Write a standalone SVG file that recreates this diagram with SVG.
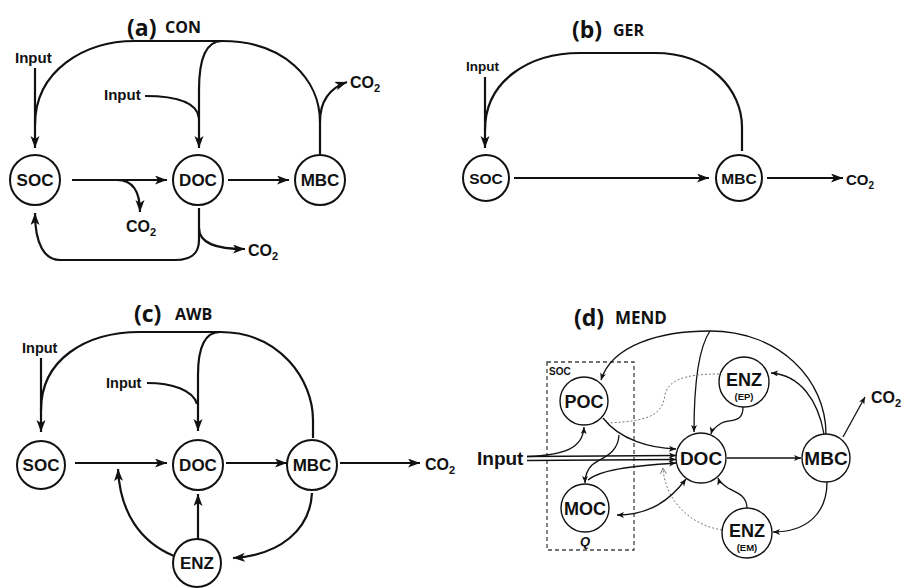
<svg xmlns="http://www.w3.org/2000/svg" width="911" height="588" viewBox="0 0 911 588">
<defs>
<marker id="ah" markerUnits="userSpaceOnUse" markerWidth="14" markerHeight="10" refX="12" refY="4.5" orient="auto">
<path d="M0,0 L12,4.5 L0,9 L3,4.5 z" fill="#111"/>
</marker>
<marker id="as" markerUnits="userSpaceOnUse" markerWidth="8" markerHeight="7" refX="7" refY="3" orient="auto-start-reverse">
<path d="M0,0 L7,3 L0,6 L1.8,3 z" fill="#111"/>
</marker>
<marker id="ag" markerUnits="userSpaceOnUse" markerWidth="8" markerHeight="7" refX="6" refY="3" orient="auto">
<path d="M0,0 L6,3 L0,6" fill="none" stroke="#777" stroke-width="0.9"/>
</marker>
</defs>
<style>
.bg{fill:#fff}
.n{fill:#fff;stroke:#111;stroke-width:2}
.nd{fill:#fff;stroke:#111;stroke-width:1.4}
.c{fill:none;stroke:#111;stroke-width:2.2}
.cd{fill:none;stroke:#111;stroke-width:1.3}
.dot{fill:none;stroke:#777;stroke-width:1;stroke-dasharray:2 2}
.lbl{font-family:"Liberation Sans",Arial,sans-serif;font-weight:bold;fill:#111;text-anchor:middle}
.t{font-family:"Liberation Sans",Arial,sans-serif;font-weight:bold;fill:#111}
.ti{font-family:"Open Sans","Liberation Sans",sans-serif;font-weight:bold;fill:#111}
</style>
<rect class="bg" x="0" y="0" width="911" height="588"/>

<!-- Panel (a) -->
<text class="ti" x="127" y="36" font-size="23">(a)</text>
<text class="ti" x="165" y="33" font-size="16">CON</text>
<g id="a-connectors">
<path class="c" d="M35,68 L35,148" marker-end="url(#ah)"/>
<path class="c" d="M35,125 C35,70 85,41 135,41 L222,41 C285,41 320,80 320,122 L320,154"/>
<path class="c" d="M222,41 C205,41 199,60 199,90 L199,148" marker-end="url(#ah)"/>
<path class="c" d="M145,96 C175,96 197,102 199,118"/>
<path class="c" d="M320,122 C320,100 330,88 347,82" marker-end="url(#ah)"/>
<path class="c" d="M72,180 L167,180" marker-end="url(#ah)"/>
<path class="c" d="M117,180 C132,180 140,190 140,212" marker-end="url(#ah)"/>
<path class="c" d="M228,180 L289,180" marker-end="url(#ah)"/>
<path class="c" d="M199,208 L199,240 C199,255 190,260 175,260 L60,260 C45,260 35,245 35,213" marker-end="url(#ah)"/>
<path class="c" d="M199,228 C199,243 215,249 245,249" marker-end="url(#ah)"/>
</g>
<text class="t" x="15" y="63" font-size="15">Input</text>
<text class="t" x="104" y="100" font-size="15">Input</text>
<text class="t" x="350" y="88" font-size="16">CO<tspan font-size="11" dy="4">2</tspan></text>
<text class="t" x="126" y="232" font-size="16">CO<tspan font-size="11" dy="4">2</tspan></text>
<text class="t" x="248" y="256" font-size="16">CO<tspan font-size="11" dy="4">2</tspan></text>
<g id="a-soc"><circle class="n" cx="35" cy="180" r="25"/><text class="lbl" x="35" y="186" font-size="17">SOC</text></g>
<g id="a-doc"><circle class="n" cx="198" cy="180" r="25"/><text class="lbl" x="198" y="186" font-size="17">DOC</text></g>
<g id="a-mbc"><circle class="n" cx="320" cy="180" r="25"/><text class="lbl" x="320" y="186" font-size="17">MBC</text></g>

<!-- Panel (b) -->
<text class="ti" x="572" y="38" font-size="23">(b)</text>
<text class="ti" x="613" y="36" font-size="16">GER</text>
<g id="b-connectors">
<path class="c" d="M485,77 L485,148" marker-end="url(#ah)"/>
<path class="c" d="M485,130 C485,80 530,53 580,53 L655,53 C710,53 742,90 742,127 L742,151"/>
<path class="c" d="M514,178 L709,178" marker-end="url(#ah)"/>
<path class="c" d="M767,178 L843,178" marker-end="url(#ah)"/>
</g>
<text class="t" x="466" y="71" font-size="13.5">Input</text>
<text class="t" x="846" y="185" font-size="15">CO<tspan font-size="10" dy="4">2</tspan></text>
<g id="b-soc"><circle class="n" cx="486" cy="178" r="23"/><text class="lbl" x="486" y="184" font-size="15.5">SOC</text></g>
<g id="b-mbc"><circle class="n" cx="739" cy="178" r="23"/><text class="lbl" x="739" y="184" font-size="15.5">MBC</text></g>

<!-- Panel (c) -->
<text class="ti" x="134" y="322" font-size="23">(c)</text>
<text class="ti" x="175" y="320" font-size="16">AWB</text>
<g id="c-connectors">
<path class="c" d="M41,358 L41,432" marker-end="url(#ah)"/>
<path class="c" d="M41,410 C41,360 85,332 140,332 L220,332 C280,332 313,380 313,420 L313,438"/>
<path class="c" d="M220,332 C203,332 198,350 198,375 L198,431" marker-end="url(#ah)"/>
<path class="c" d="M147,383 C172,383 193,390 197,404"/>
<path class="c" d="M75,463 L167,463" marker-end="url(#ah)"/>
<path class="c" d="M226,463 L287,463" marker-end="url(#ah)"/>
<path class="c" d="M340,463 L420,463" marker-end="url(#ah)"/>
<path class="c" d="M198,539 L198,494" marker-end="url(#ah)"/>
<path class="c" d="M174,556 C140,542 120,512 118,469" marker-end="url(#ah)"/>
<path class="c" d="M312,493 C310,530 280,555 233,558" marker-end="url(#ah)"/>
</g>
<text class="t" x="22" y="353" font-size="14.5">Input</text>
<text class="t" x="106" y="388" font-size="14.5">Input</text>
<text class="t" x="425" y="470" font-size="16">CO<tspan font-size="11" dy="4">2</tspan></text>
<g id="c-soc"><circle class="n" cx="41" cy="465" r="24"/><text class="lbl" x="41" y="471" font-size="17">SOC</text></g>
<g id="c-doc"><circle class="n" cx="198" cy="465" r="25"/><text class="lbl" x="198" y="471" font-size="17">DOC</text></g>
<g id="c-mbc"><circle class="n" cx="312" cy="465" r="25"/><text class="lbl" x="312" y="471" font-size="17">MBC</text></g>
<g id="c-enz"><circle class="n" cx="197" cy="563" r="24"/><text class="lbl" x="197" y="569" font-size="17">ENZ</text></g>

<!-- Panel (d) -->
<text class="ti" x="574" y="326" font-size="23">(d)</text>
<text class="ti" x="615" y="324" font-size="17">MEND</text>
<g id="d-soc-box">
<rect x="547" y="362" width="87" height="188" fill="none" stroke="#444" stroke-width="1.3" stroke-dasharray="4 3"/>
<text class="t" x="549" y="375" font-size="10">SOC</text>
</g>
<g id="d-connectors">
<path class="cd" d="M710,331 C660,331 612,345 601,380" marker-end="url(#as)"/>
<path class="cd" d="M710,331 C780,331 826,380 826,434"/>
<path class="cd" d="M710,331 C697,350 694,390 694,432" marker-end="url(#as)"/>
<path class="cd" d="M824,434 C818,400 800,375 771,373" marker-end="url(#as)"/>
<path class="cd" d="M743,407 C743,425 728,418 720,424 C714,428 712,430 711,434" marker-end="url(#as)"/>
<path class="cd" d="M827,482 C827,515 805,532 773,532" marker-end="url(#as)"/>
<path class="cd" d="M747,508 C747,495 735,492 728,488 C722,484 719,481 718,478" marker-end="url(#as)"/>
<path class="cd" d="M727,458 L801,458" marker-end="url(#as)"/>
<path class="cd" d="M843,437 L865,397" marker-end="url(#as)"/>
<path class="dot" d="M719,374 C685,374 668,380 665,395 C662,415 650,421 607,423"/>
<path class="dot" d="M722,530 C690,525 665,500 663,468" marker-end="url(#ag)"/>
<path class="cd" d="M603,418 C620,440 650,448 676,449" marker-end="url(#as)"/>
<path class="cd" d="M619,435 C618,455 600,458 592,465 C587,470 585,475 585,483" marker-end="url(#as)"/>
<path class="cd" d="M588,480 C600,470 630,466 676,463" marker-end="url(#as)"/>
<path class="cd" d="M617,515 C650,515 670,500 686,479" marker-start="url(#as)" marker-end="url(#as)"/>
<path class="cd" d="M527,456.5 C565,455 583,448 584,427" marker-end="url(#as)"/>
<path class="cd" d="M527,456.5 L676,455.5" marker-end="url(#as)"/>
<path class="cd" d="M527,460.5 L676,459.5" marker-end="url(#as)"/>
</g>
<text class="t" x="477" y="465" font-size="19">Input</text>
<text class="t" x="871" y="403" font-size="16">CO<tspan font-size="11" dy="4">2</tspan></text>
<g id="d-poc"><circle class="nd" cx="584" cy="401" r="24"/><text class="lbl" x="584" y="408" font-size="18">POC</text></g>
<g id="d-moc"><circle class="nd" cx="585" cy="508" r="24"/><text class="lbl" x="585" y="515" font-size="18">MOC</text>
<text class="lbl" x="585" y="546" font-size="13" font-style="italic">Q</text></g>
<g id="d-doc"><circle class="nd" cx="701" cy="458" r="25"/><text class="lbl" x="701" y="465" font-size="19">DOC</text></g>
<g id="d-mbc"><circle class="nd" cx="826" cy="458" r="24"/><text class="lbl" x="826" y="465" font-size="19">MBC</text></g>
<g id="d-enz-ep"><circle class="nd" cx="744" cy="382" r="25"/><text class="lbl" x="744" y="386" font-size="18">ENZ</text><text class="lbl" x="744" y="400" font-size="9.5">(EP)</text></g>
<g id="d-enz-em"><circle class="nd" cx="747" cy="533" r="25"/><text class="lbl" x="747" y="537" font-size="18">ENZ</text><text class="lbl" x="747" y="551" font-size="9.5">(EM)</text></g>
</svg>
